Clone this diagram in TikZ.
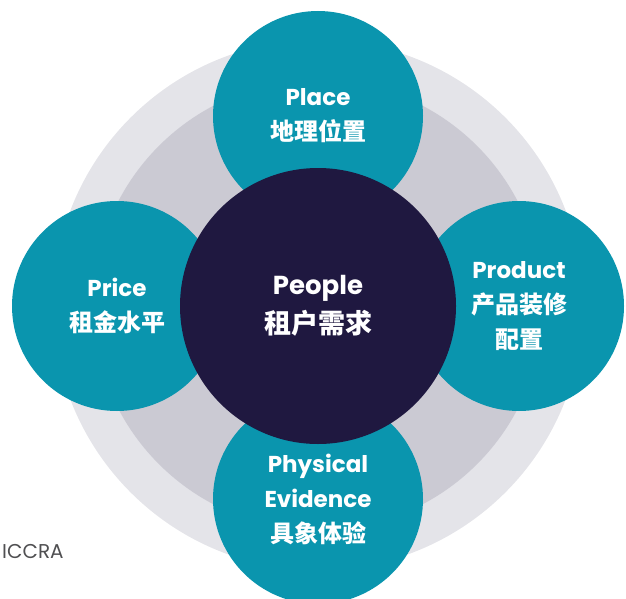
\documentclass[tikz,border=0pt]{standalone}
\usepackage{fontspec}
\setmainfont{Poppins}
\newfontfamily\cjk{Noto Sans CJK SC}
\newcommand{\zh}[1]{{\cjk\fontsize{24}{35}\selectfont #1}}
\definecolor{petalteal}{HTML}{0A95AE}
\definecolor{corenavy}{HTML}{1F1840}
\definecolor{ringouter}{HTML}{E4E4E9}
\definecolor{ringinner}{HTML}{CBCAD3}
\definecolor{creditgray}{HTML}{505052}
\begin{document}
\begin{tikzpicture}[x=1pt,y=-1pt,
  ring/.style={circle,inner sep=0pt},
  petal/.style={circle,fill=petalteal,minimum size=210pt,inner sep=0pt,
    text=white,align=center,font=\bfseries\fontsize{23}{35}\selectfont},
  core/.style={circle,fill=corenavy,minimum size=276pt,inner sep=0pt,
    text=white,align=center,font=\bfseries\fontsize{26}{39}\selectfont},
  credit/.style={anchor=base west,inner sep=0pt,text=creditgray,font=\fontsize{20}{22}\selectfont}]
  \useasboundingbox (0,0) rectangle (626,599);
  % background rings
  \node[ring,fill=ringouter,minimum size=530pt] (outer) at (318,305) {};
  \node[ring,fill=ringinner,minimum size=450pt] (inner) at (318,305) {};
  % the four outer circles
  \node[petal] (place) at (318,116) {Place\\\zh{地理位置}};
  \node[petal] (price) at (117,306) {Price\\\zh{租金水平}};
  \node[petal] (product) at (519,306) {Product\\\zh{产品装修}\\\zh{配置}};
  \node[petal] (evidence) at (318,499) {Physical\\Evidence\\\zh{具象体验}};
  % central circle
  \node[core] (people) at (318,306) {People\\{\cjk\fontsize{27}{39}\selectfont 租户需求}};
  % credit line
  \node[credit] (source) at (2,558) {ICCRA};
\end{tikzpicture}
\end{document}
